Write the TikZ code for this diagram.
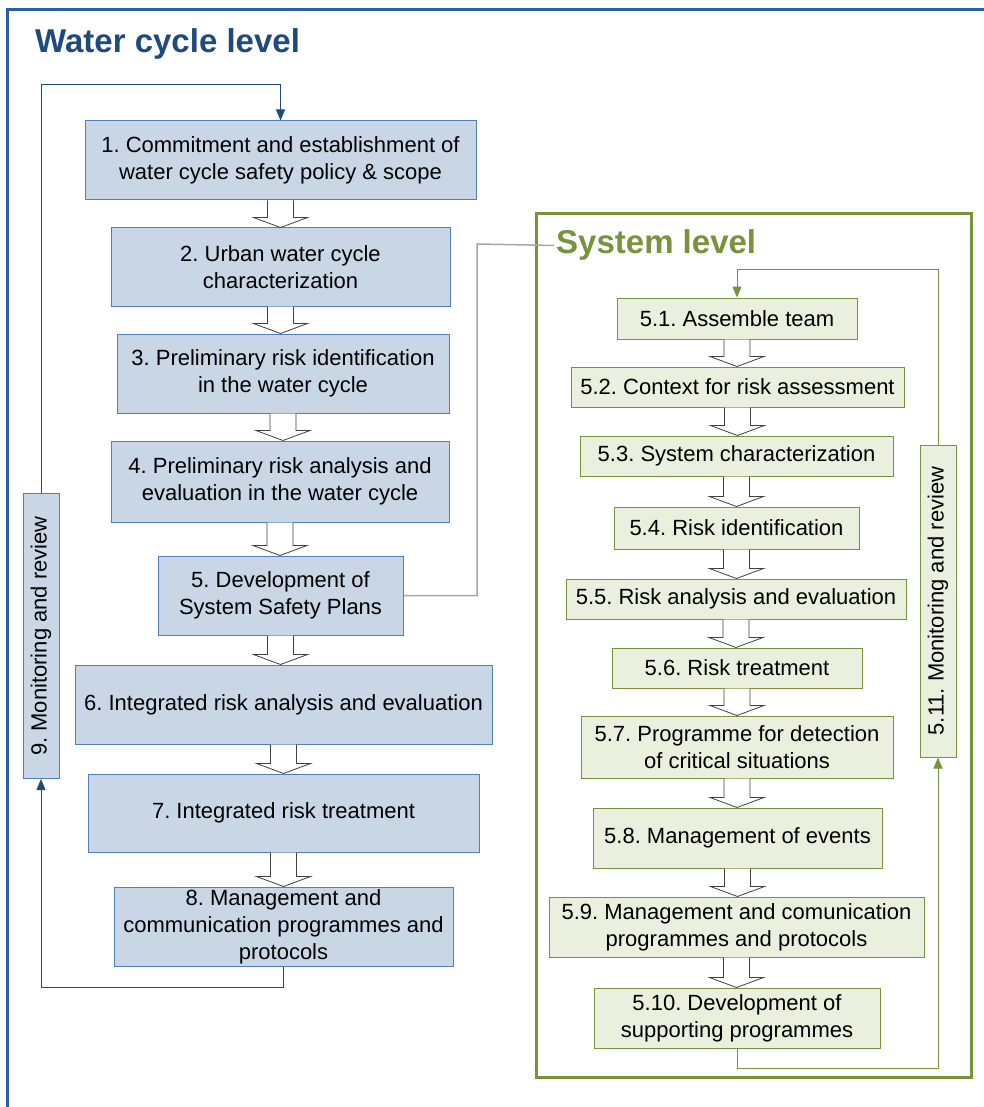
\documentclass[tikz,border=0pt]{standalone}
\usepackage{fontspec}
\setmainfont{Liberation Sans}
\usepackage{tikz}
\usetikzlibrary{calc,positioning,arrows.meta}
\frenchspacing

\definecolor{wfill}{HTML}{C9D6E6}
\definecolor{wline}{HTML}{4F7FBF}
\definecolor{wframe}{HTML}{2C5EAA}
\definecolor{wtitle}{HTML}{1F4A80}
\definecolor{sfill}{HTML}{EBF0DE}
\definecolor{sline}{HTML}{77933C}
\definecolor{grayline}{HTML}{A6A6A6}

% hollow block arrow from one box down to the next
\newcommand{\hollowdown}[2]{%
    \draw[hollow] let \p1=(#1.south), \p2=(#2.north) in
        (\x1-13,\y1) -- (\x1-13,\y2+10) -- (\x1-27,\y2+10) -- (\x1,\y2)
        -- (\x1+27,\y2+10) -- (\x1+13,\y2+10) -- (\x1+13,\y1);
}

\begin{document}
\begin{tikzpicture}[x=1pt, y=-1pt, align=center,
    every node/.style={font=\fontsize{22}{27}\selectfont, inner sep=2pt},
    wbox/.style={draw=wline, fill=wfill, line width=1pt},
    sbox/.style={draw=sline, fill=sfill, line width=1pt},
    hollow/.style={draw=black!75, fill=white, line width=0.8pt},
    wloop/.style={draw=wtitle, line width=1pt, -{Triangle[length=11pt, width=9pt]}},
    sloop/.style={draw=sline, line width=1pt, -{Triangle[length=11pt, width=9pt]}}]
    \useasboundingbox (0,0) rectangle (984,1107);

    % frames and titles
    \draw[wframe, line width=3pt] (7,1120) -- (7,10) -- (1000,10);
    \node[font=\fontsize{33}{40}\selectfont\bfseries, text=wtitle, anchor=base west, inner sep=0pt] (wtitle) at (35,53) {Water cycle level};
    \draw[sline, line width=3pt] (536,214) rectangle (971,1077);
    \node[font=\fontsize{33}{40}\selectfont\bfseries, text=sline, fill=white, anchor=base west, inner sep=2pt] (stitle) at (554,254) {System level};

    % water cycle level
    \node[wbox, minimum width=391, minimum height=79] (w1) at (280.5,160.5) {1. Commitment and establishment of\\water cycle safety policy \& scope};
    \node[wbox, minimum width=339, minimum height=78] (w2) at (280.5,267) {2. Urban water cycle\\characterization};
    \node[wbox, minimum width=332, minimum height=79] (w3) at (283,373.5) {3. Preliminary risk identification\\in the water cycle};
    \node[wbox, minimum width=338, minimum height=81] (w4) at (280,481.5) {4. Preliminary risk analysis and\\evaluation in the water cycle};
    \node[wbox, minimum width=245, minimum height=79] (w5) at (280.5,595.5) {5. Development of\\System Safety Plans};
    \node[wbox, minimum width=417, minimum height=79] (w6) at (283.5,704.5) {6. Integrated risk analysis and evaluation};
    \node[wbox, minimum width=391, minimum height=78] (w7) at (283.5,813) {7. Integrated risk treatment};
    \node[wbox, minimum width=339, minimum height=79] (w8) at (283.5,926.5) {8. Management and\\communication programmes and\\protocols};
    \node[wbox, minimum width=285, minimum height=36, rotate=90] (w9) at (41,636) {9. Monitoring and review};

    \hollowdown{w1}{w2}
    \hollowdown{w2}{w3}
    \hollowdown{w3}{w4}
    \hollowdown{w4}{w5}
    \hollowdown{w5}{w6}
    \hollowdown{w6}{w7}
    \hollowdown{w7}{w8}

    \draw[wloop] (w8.south) |- (41,987) -- (w9.west);
    \draw[wloop] (w9.east) |- (280.5,85) -- (w1.north);

    % link to system level
    \draw[grayline, line width=1.5pt] (w5.east) -| (477,244) -- (stitle.west);

    % system level
    \node[sbox, minimum width=240, minimum height=41] (s1) at (737,318.5) {5.1. Assemble team};
    \node[sbox, minimum width=333, minimum height=40] (s2) at (737.5,387) {5.2. Context for risk assessment};
    \node[sbox, minimum width=313, minimum height=40] (s3) at (736.5,456) {5.3. System characterization};
    \node[sbox, minimum width=245, minimum height=42] (s4) at (736.5,528) {5.4. Risk identification};
    \node[sbox, minimum width=340, minimum height=40] (s5) at (736,599) {5.5. Risk analysis and evaluation};
    \node[sbox, minimum width=250, minimum height=40] (s6) at (737,668) {5.6. Risk treatment};
    \node[sbox, minimum width=312, minimum height=62] (s7) at (737,747) {5.7. Programme for detection\\of critical situations};
    \node[sbox, minimum width=289, minimum height=60] (s8) at (737.5,838) {5.8. Management of events};
    \node[sbox, minimum width=375, minimum height=60] (s9) at (736.5,927) {5.9. Management and comunication\\programmes and protocols};
    \node[sbox, minimum width=286, minimum height=60] (s10) at (737,1018) {5.10. Development of\\supporting programmes};
    \node[sbox, minimum width=312, minimum height=36, rotate=90] (s11) at (938,601) {5.11. Monitoring and review};

    \hollowdown{s1}{s2}
    \hollowdown{s2}{s3}
    \hollowdown{s3}{s4}
    \hollowdown{s4}{s5}
    \hollowdown{s5}{s6}
    \hollowdown{s6}{s7}
    \hollowdown{s7}{s8}
    \hollowdown{s8}{s9}
    \hollowdown{s9}{s10}

    \draw[sloop] (s10.south) |- (938,1068) -- (s11.west);
    \draw[sloop] (s11.east) |- (737,269) -- (s1.north);
\end{tikzpicture}
\end{document}
